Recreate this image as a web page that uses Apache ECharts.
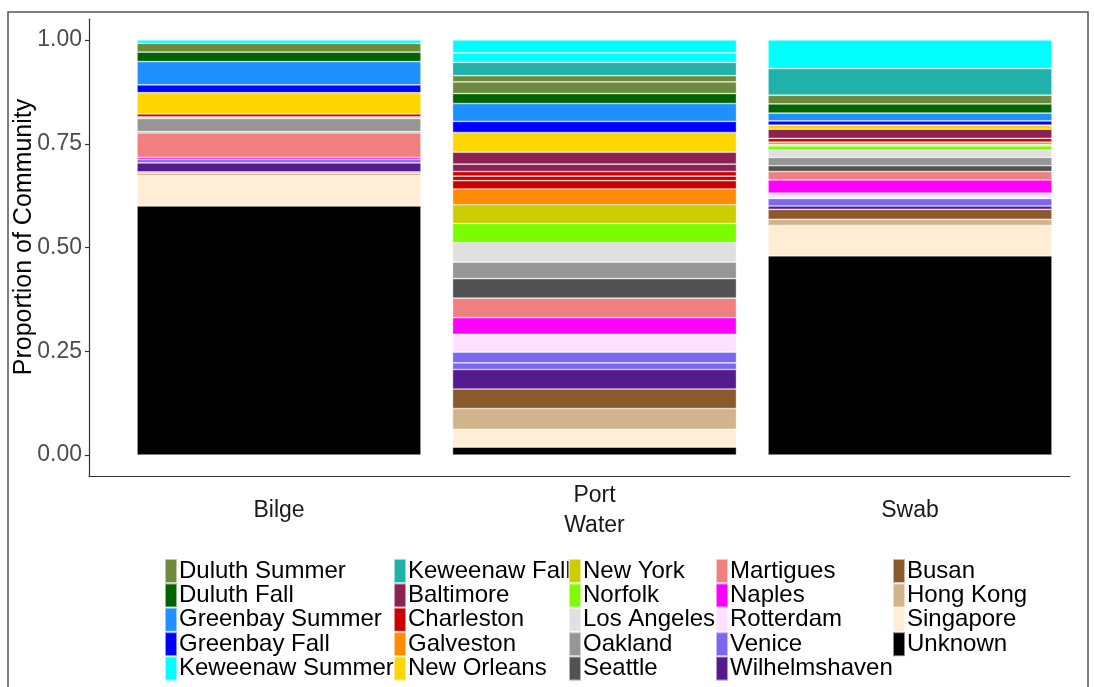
<!DOCTYPE html>
<html>
<head>
<meta charset="utf-8">
<script src="https://cdn.jsdelivr.net/npm/echarts@6/dist/echarts.min.js"></script>
<style>
  html, body { margin: 0; padding: 0; background: #fff; }
  #chart { width: 1094px; height: 687px; }
</style>
</head>
<body>
<div id="chart"></div>
<script>
// Sample sites along the x axis
const samples = ['Bilge', 'Port\nWater', 'Swab'];

// Source taxa in legend order (legend is filled column by column)
const legendOrder = [
  'Duluth Summer', 'Duluth Fall', 'Greenbay Summer', 'Greenbay Fall', 'Keweenaw Summer',
  'Keweenaw Fall', 'Baltimore', 'Charleston', 'Galveston', 'New Orleans',
  'New York', 'Norfolk', 'Los Angeles', 'Oakland', 'Seattle',
  'Martigues', 'Naples', 'Rotterdam', 'Venice', 'Wilhelmshaven',
  'Busan', 'Hong Kong', 'Singapore', 'Unknown'
];
const legendColors = [
  '#6E8B3D', '#006400', '#1E90FF', '#0000FF', '#00FFFF',
  '#20B2AA', '#8B2252', '#CD0000', '#FF8C00', '#FFD700',
  '#CDCD00', '#7CFC00', '#E0E0E0', '#969696', '#525252',
  '#F08080', '#FF00FF', '#FFE1FF', '#7B68EE', '#551A8B',
  '#8B5A2B', '#D2B48C', '#FFEDD5', '#000000'
];

// Stacking order, bottom of each bar to top
const stackOrder = [
  'Unknown', 'Singapore', 'Hong Kong', 'Busan', 'Wilhelmshaven', 'Venice',
  'Rotterdam', 'Naples', 'Martigues', 'Seattle', 'Oakland', 'Los Angeles',
  'Norfolk', 'New York', 'Galveston', 'Charleston', 'Baltimore', 'New Orleans',
  'Greenbay Fall', 'Greenbay Summer', 'Duluth Fall', 'Duluth Summer',
  'Keweenaw Fall', 'Keweenaw Summer'
];

// Proportions per sample, aligned with stackOrder.
// A list means the source contributes several stacked rows (bottom to top).
const bilge = [
  0.600, 0.073, 0.006, 0.003, 0.022, 0.008,
  0, 0.005, 0.059, 0.003, 0.032, 0,
  0.004, 0, 0, 0.007, 0, 0.051,
  0.019, 0.056, 0.023, 0.021,
  0, 0.008
];
const portWater = [
  0.019, 0.043, 0.050, 0.047, 0.047, [0.016, 0.026],
  0.043, 0.040, 0.047, 0.047, 0.040, 0.047,
  0.046, 0.045, 0.038, [0.020, 0.011, 0.011], [0.018, 0.029], 0.047,
  0.027, 0.043, 0.024, [0.028, 0.015],
  0.032, [0.023, 0.031]
];
const swab = [
  0.480, 0.073, 0.015, 0.024, 0.008, 0.018,
  0.013, 0.032, 0.020, 0.014, 0.020, 0.018,
  0.010, 0.003, 0.006, 0.009, 0.022, 0.010,
  0.010, 0.019, 0.022, 0.021,
  0.064, 0.069
];

const yTicks = [0, 0.25, 0.5, 0.75, 1];

const FONT = 'Liberation Sans, Arial, Helvetica, sans-serif';
const sampleValues = [bilge, portWater, swab];

function partsOf(v) { return Array.isArray(v) ? v : [v]; }

const series = [];
stackOrder.forEach((name, i) => {
  const color = legendColors[legendOrder.indexOf(name)];
  const perSample = sampleValues.map(arr => partsOf(arr[i]));
  const nParts = Math.max(...perSample.map(p => p.length));
  for (let p = 0; p < nParts; p++) {
    series.push({
      name: name,
      type: 'bar',
      stack: 'community',
      xAxisIndex: 0,
      yAxisIndex: 0,
      barWidth: '90%',
      itemStyle: {
        color: color,
        borderColor: 'rgba(255,255,255,0.55)',
        borderWidth: 0.7
      },
      emphasis: { disabled: true },
      data: perSample.map(parts => (p < parts.length && parts[p] > 0) ? parts[p] : '-')
    });
  }
});

const legendLefts = [164, 393, 568, 715, 892];
const legends = legendLefts.map((left, c) => ({
  type: 'plain',
  orient: 'vertical',
  left: left,
  top: 558,
  width: 220,
  height: 160,
  itemWidth: 12,
  itemHeight: 24,
  itemGap: -1.6,
  icon: 'rect',
  selectedMode: false,
  padding: 0,
  data: legendOrder.slice(c * 5, c * 5 + 5),
  textStyle: {
    fontFamily: FONT,
    fontSize: 24,
    lineHeight: 24,
    color: '#000',
    padding: [0, 0, 0, -3]
  }
}));

const chart = echarts.init(document.getElementById('chart'), null, { renderer: 'canvas' });
chart.setOption({
  animation: false,
  backgroundColor: '#fff',
  grid: [
    { left: 121.25, right: 26.25, top: 19.25, bottom: 211.25, outerBoundsMode: 'none' },
    { left: 89, right: 24, top: 19.25, bottom: 211.25, outerBoundsMode: 'none' }
  ],
  xAxis: [
    {
      type: 'category',
      gridIndex: 0,
      data: samples,
      boundaryGap: true,
      axisLine: { show: false },
      axisTick: { show: false },
      splitLine: { show: false },
      axisLabel: {
        fontFamily: FONT,
        fontSize: 23,
        color: '#1a1a1a',
        margin: 35,
        lineHeight: 30,
        verticalAlign: 'middle'
      }
    },
    {
      type: 'value',
      gridIndex: 1,
      min: 0,
      max: 1,
      axisLine: { show: true, onZero: false, lineStyle: { color: '#333', width: 1.2 } },
      axisTick: { show: false },
      axisLabel: { show: false },
      splitLine: { show: false }
    }
  ],
  yAxis: [
    {
      type: 'value',
      gridIndex: 0,
      min: -0.05,
      max: 1.05,
      show: false,
      splitLine: { show: false }
    },
    {
      type: 'value',
      gridIndex: 1,
      min: -0.05,
      max: 1.05,
      axisLine: { show: true, onZero: false, lineStyle: { color: '#333', width: 1.2 } },
      axisTick: {
        show: true,
        length: 4,
        customValues: yTicks,
        lineStyle: { color: '#333', width: 1.2 }
      },
      axisLabel: {
        show: true,
        customValues: yTicks,
        margin: 7,
        fontFamily: FONT,
        fontSize: 23,
        color: '#4d4d4d',
        formatter: v => Number(v).toFixed(2)
      },
      splitLine: { show: false }
    }
  ],
  legend: legends,
  graphic: [
    {
      type: 'rect',
      silent: true,
      shape: { x: 8, y: 12, width: 1080, height: 700 },
      style: { fill: 'none', stroke: '#555', lineWidth: 1.5 }
    },
    {
      type: 'text',
      silent: true,
      x: 24,
      y: 237,
      rotation: Math.PI / 2,
      style: {
        text: 'Proportion of Community',
        font: '25px ' + FONT,
        fill: '#000',
        align: 'center',
        verticalAlign: 'middle'
      }
    }
  ],
  series: series
});
</script>
</body>
</html>
